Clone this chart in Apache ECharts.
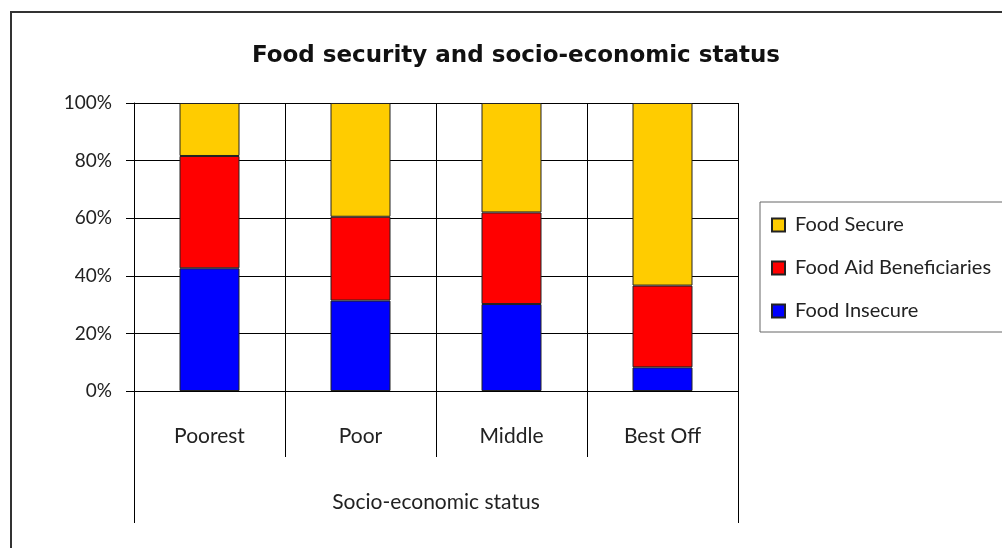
<!DOCTYPE html>
<html>
<head>
<meta charset="utf-8">
<script src="https://cdn.jsdelivr.net/npm/echarts@6/dist/echarts.min.js"></script>
<style>
html,body{margin:0;padding:0;background:#fff;}
#chart{width:1002px;height:548px;}
</style>
</head>
<body>
<div id="chart"></div>
<script>
const categories = ['Poorest', 'Poor', 'Middle', 'Best Off'];
const foodInsecure = [42.6, 31.4, 30.2, 8.2];
const foodAid = [39.0, 29.1, 31.8, 28.4];
const foodSecure = [18.4, 39.5, 38.0, 63.4];
const yTicks = [0, 20, 40, 60, 80, 100];
const axisTitle = 'Socio-economic status';
const chartTitle = 'Food security and socio-economic status';

const FONT = 'Lato';
const chart = echarts.init(document.getElementById('chart'), null, {renderer: 'canvas'});

const barStyle = (c) => ({color: c, borderColor: '#222', borderWidth: 1});

chart.setOption({
  animation: false,
  backgroundColor: '#fff',
  title: {
    text: chartTitle,
    left: 511, top: 40, textAlign: 'center',
    textStyle: {fontFamily: 'DejaVu Sans', fontWeight: 'bold', fontSize: 23, color: '#111'}
  },
  graphic: [{
    type: 'rect', silent: true, z: -1,
    shape: {x: 11, y: 12, width: 1010, height: 560},
    style: {fill: 'none', stroke: '#333', lineWidth: 2}
  }],
  legend: {
    orient: 'vertical',
    left: 760, top: 202,
    data: ['Food Secure', 'Food Aid Beneficiaries', 'Food Insecure'],
    icon: 'rect', itemWidth: 13, itemHeight: 13, itemGap: 23,
    padding: [13, 40, 11, 11],
    borderColor: '#666', borderWidth: 1,
    textStyle: {fontFamily: FONT, fontSize: 20, color: '#222', padding: [0, 0, 0, 5]}
  },
  grid: {left: 134, right: 264, top: 103, bottom: 157, show: false},
  xAxis: [{
    type: 'category', data: categories, position: 'bottom',
    axisLine: {show: true, lineStyle: {color: '#000', width: 1}},
    axisTick: {show: true, length: 66, lineStyle: {color: '#000'}},
    axisLabel: {fontFamily: FONT, fontSize: 21, color: '#222', margin: 35},
    splitLine: {show: true, lineStyle: {color: '#000', width: 1}}
  }, {
    type: 'category', data: [axisTitle], position: 'bottom',
    axisLine: {show: false},
    axisTick: {show: true, length: 132, lineStyle: {color: '#000'}},
    axisLabel: {fontFamily: FONT, fontSize: 21, color: '#222', margin: 101},
    splitLine: {show: false}
  }],
  yAxis: {
    type: 'value', min: yTicks[0], max: yTicks[yTicks.length - 1], interval: 20,
    axisLine: {show: true, lineStyle: {color: '#000'}},
    axisTick: {show: true, length: 8, lineStyle: {color: '#000'}},
    axisLabel: {formatter: '{value}%', fontFamily: FONT, fontSize: 19, color: '#222', margin: 22},
    splitLine: {show: true, lineStyle: {color: '#000', width: 1}}
  },
  series: [
    {name: 'Food Insecure', type: 'bar', stack: 's', data: foodInsecure, barWidth: 60, itemStyle: barStyle('#0000FF')},
    {name: 'Food Aid Beneficiaries', type: 'bar', stack: 's', data: foodAid, barWidth: 60, itemStyle: barStyle('#FF0000')},
    {name: 'Food Secure', type: 'bar', stack: 's', data: foodSecure, barWidth: 60, itemStyle: barStyle('#FFCC00')}
  ]
});
</script>
</body>
</html>
